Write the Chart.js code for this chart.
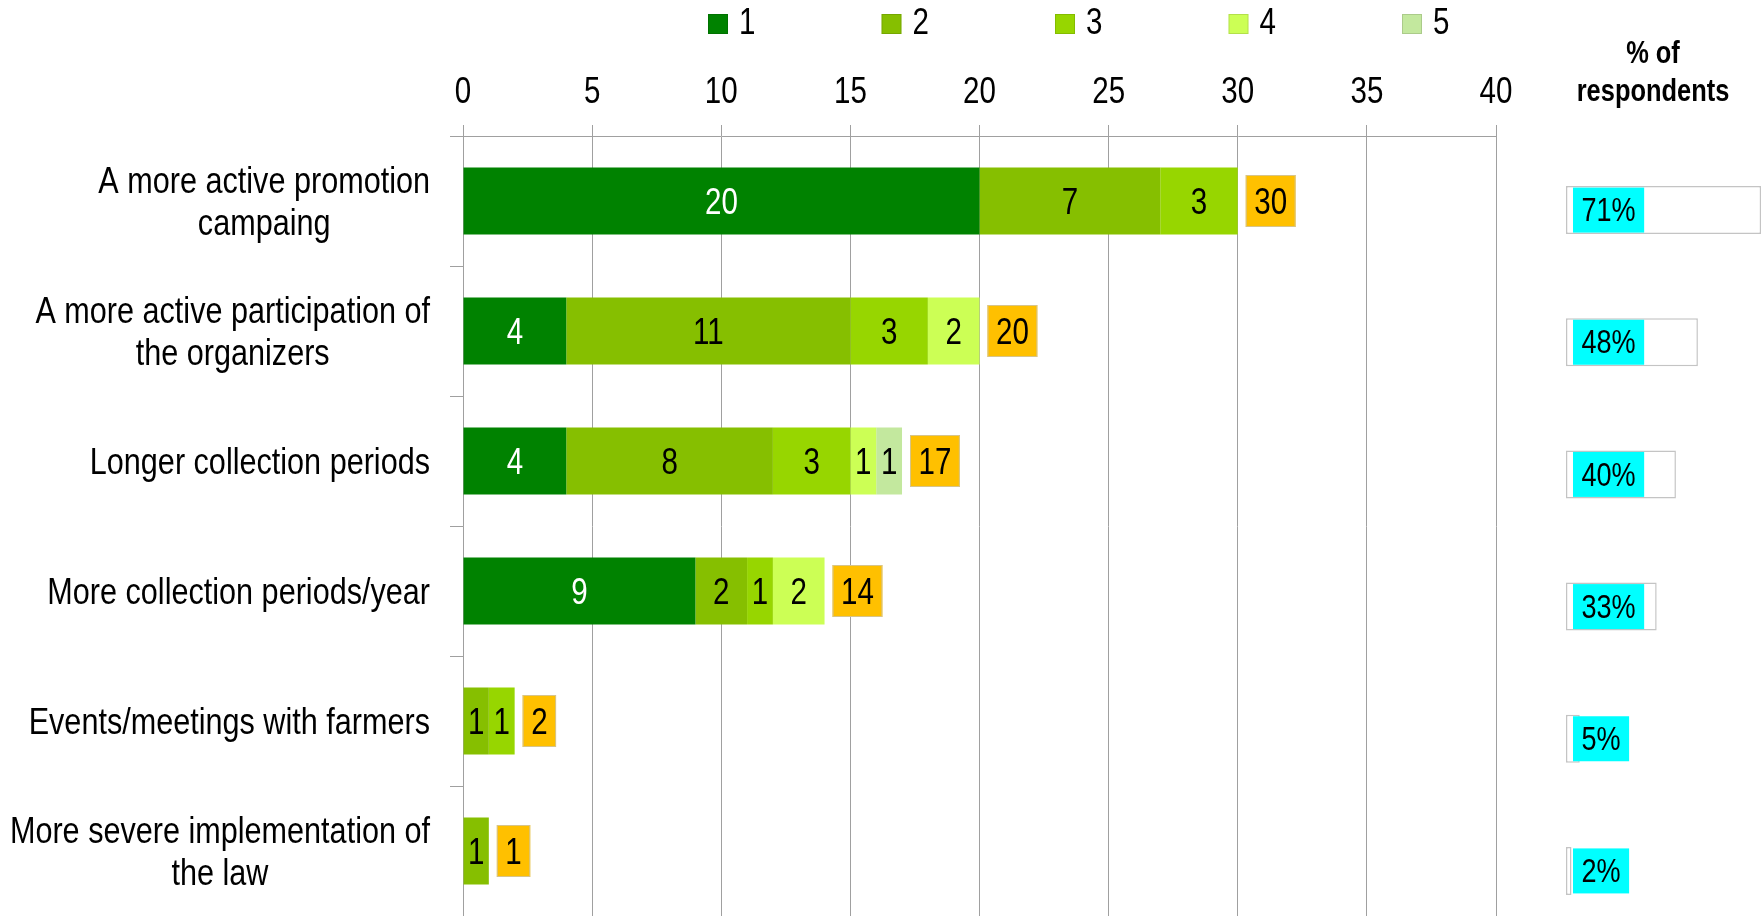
<!DOCTYPE html>
<html>
<head>
<meta charset="utf-8">
<script src="https://cdn.jsdelivr.net/npm/chart.js@4.4.0/dist/chart.umd.min.js"></script>
<style>
  html, body { margin: 0; padding: 0; background: #fff; overflow: hidden; }
  #wrap { position: relative; width: 1764px; height: 916px; overflow: hidden; }
  #main { position: absolute; left: 0; top: 0; }
  #pct { position: absolute; left: 1545px; top: 0; }
  #pctTitle {
    position: absolute; left: 1545px; top: 34px; width: 216px;
    text-align: center; font: bold 31px "Liberation Sans", Arial, sans-serif;
    line-height: 38px; color: #000; transform: scaleX(0.82);
  }
</style>
</head>
<body>
<div id="wrap">
  <canvas id="main" width="1545" height="916"></canvas>
  <canvas id="pct" width="219" height="950"></canvas>
  <div id="pctTitle">% of<br>respondents</div>
</div>
<script>
const FONT = '"Liberation Sans", Arial, sans-serif';
const NARROW = 0.82; // Arial Narrow look: squeeze Liberation Sans

// data
const categories = [
  ["A more active promotion", "campaing"],
  ["A more active participation of", "the organizers"],
  ["Longer collection periods"],
  ["More collection periods/year"],
  ["Events/meetings with farmers"],
  ["More severe implementation of", "the law"],
];
const seriesNames = ["1", "2", "3", "4", "5"];
const score1 = [20, 4, 4, 9, 0, 0];
const score2 = [7, 11, 8, 2, 1, 1];
const score3 = [3, 3, 3, 1, 1, 0];
const score4 = [0, 2, 1, 2, 0, 0];
const score5 = [0, 0, 1, 0, 0, 0];
const respondentsPct = [71, 48, 40, 33, 5, 2];

const seriesValues = [score1, score2, score3, score4, score5];
const seriesColors = ["#008200", "#86bf00", "#97d600", "#ccff55", "#c3e89e"];

Chart.defaults.font.family = FONT;
Chart.defaults.color = "#000";

function textW(ctx, t, k) {
  return ctx.measureText(t).width * (k || NARROW);
}
function narrowText(ctx, t, x, y, align, k) {
  ctx.save();
  ctx.translate(x, y);
  ctx.scale(k || NARROW, 1);
  ctx.textAlign = align || "center";
  ctx.fillText(t, 0, 0);
  ctx.restore();
}

// legend drawn by hand so it sits where the original has it
const legendPlugin = {
  id: "topLegend",
  afterDraw(chart) {
    const ctx = chart.ctx;
    ctx.save();
    ctx.font = `36px ${FONT}`;
    ctx.textBaseline = "middle";
    chart.data.datasets.forEach((ds, i) => {
      const x = 708 + i * 173.5;
      ctx.fillStyle = ds.backgroundColor;
      ctx.fillRect(x, 14, 20, 20);
      ctx.strokeStyle = "rgba(0,0,0,0.12)";
      ctx.strokeRect(x + 0.5, 14.5, 19, 19);
      ctx.fillStyle = "#000";
      narrowText(ctx, ds.label, x + 31, 24, "left");
    });
    ctx.restore();
  },
};

// x tick labels and category labels
const axisLabelPlugin = {
  id: "axisLabels",
  afterDraw(chart) {
    const { ctx } = chart;
    const x = chart.scales.x;
    const y = chart.scales.y;
    ctx.save();
    ctx.font = `36px ${FONT}`;
    ctx.fillStyle = "#000";
    ctx.textBaseline = "middle";
    x.ticks.forEach((t) => {
      narrowText(ctx, String(t.value), x.getPixelForValue(t.value), 93, "center");
    });
    categories.forEach((lines, i) => {
      const yc = y.getPixelForValue(i) + 3;
      const w = Math.max(...lines.map((l) => textW(ctx, l, 0.85)));
      const right = y.right - 33;
      lines.forEach((line, j) => {
        narrowText(ctx, line, right - w / 2, yc + (j - (lines.length - 1) / 2) * 42, "center", 0.85);
      });
    });
    ctx.restore();
  },
};

// values inside segments + total boxes
const valueLabelPlugin = {
  id: "valueLabels",
  afterDatasetsDraw(chart) {
    const { ctx } = chart;
    const x = chart.scales.x;
    const y = chart.scales.y;
    ctx.save();
    ctx.font = `36px ${FONT}`;
    ctx.textBaseline = "middle";
    chart.data.datasets.forEach((ds, di) => {
      const meta = chart.getDatasetMeta(di);
      meta.data.forEach((bar, i) => {
        const v = ds.data[i];
        if (!v) return;
        ctx.fillStyle = di === 0 ? "#fff" : "#000";
        narrowText(ctx, String(v), (bar.x + bar.base) / 2, bar.y + 3, "center");
      });
    });
    categories.forEach((c, i) => {
      const total = seriesValues.reduce((s, arr) => s + arr[i], 0);
      const txt = String(total);
      const w = textW(ctx, txt) + 17;
      const left = x.getPixelForValue(total) + 8;
      const yc = y.getPixelForValue(i);
      ctx.fillStyle = "#ffc000";
      ctx.fillRect(left, yc - 26, w, 52);
      ctx.strokeStyle = "#d6c48a";
      ctx.lineWidth = 1;
      ctx.strokeRect(left + 0.5, yc - 25.5, w - 1, 51);
      ctx.fillStyle = "#000";
      narrowText(ctx, txt, left + w / 2, yc + 3, "center");
    });
    ctx.restore();
  },
};

new Chart(document.getElementById("main"), {
  type: "bar",
  data: {
    labels: categories,
    datasets: seriesNames.map((name, i) => ({
      label: name,
      data: seriesValues[i],
      backgroundColor: seriesColors[i],
      borderWidth: 0,
      barPercentage: 0.515,
      categoryPercentage: 1,
    })),
  },
  options: {
    indexAxis: "y",
    responsive: false,
    animation: false,
    devicePixelRatio: 1,
    layout: { padding: { left: 0, right: 49, top: 0, bottom: 0 } },
    plugins: { legend: { display: false }, tooltip: { enabled: false } },
    scales: {
      x: {
        position: "top",
        stacked: true,
        min: 0,
        max: 40,
        ticks: { stepSize: 5, display: false },
        grid: { color: "#a0a0a0", tickLength: 11 },
        border: { color: "#a0a0a0" },
        afterFit: (s) => { s.height = 136; },
      },
      y: {
        stacked: true,
        ticks: { display: false },
        grid: { drawOnChartArea: false, tickLength: 13, color: "#a0a0a0" },
        border: { color: "#a0a0a0" },
        afterFit: (s) => { s.width = 463; },
      },
    },
  },
  plugins: [legendPlugin, axisLabelPlugin, valueLabelPlugin],
});

// right panel: % of respondents
const pctLabelPlugin = {
  id: "pctLabels",
  afterDatasetsDraw(chart) {
    const { ctx } = chart;
    ctx.save();
    ctx.font = `33px ${FONT}`;
    ctx.textBaseline = "middle";
    const meta = chart.getDatasetMeta(0);
    meta.data.forEach((bar, i) => {
      const txt = respondentsPct[i] + "%";
      const w = textW(ctx, txt) + 17;
      const left = bar.base + 7;
      ctx.fillStyle = "#00ffff";
      ctx.fillRect(left, bar.y - 22.5, w, 45);
      ctx.fillStyle = "#000";
      narrowText(ctx, txt, left + w / 2, bar.y + 2, "center");
    });
    ctx.restore();
  },
};

new Chart(document.getElementById("pct"), {
  type: "bar",
  data: {
    labels: categories,
    datasets: [{
      data: respondentsPct,
      backgroundColor: "#ffffff",
      borderColor: "#c4c4c4",
      borderWidth: 1.5,
      borderSkipped: false,
      barPercentage: 0.363,
      categoryPercentage: 1,
    }],
  },
  options: {
    indexAxis: "y",
    responsive: false,
    animation: false,
    devicePixelRatio: 1,
    layout: { padding: { left: 21, right: 1, top: 144, bottom: 13 } },
    plugins: { legend: { display: false }, tooltip: { enabled: false } },
    scales: {
      x: { display: false, min: 0, max: 71.7 },
      y: { display: false },
    },
  },
  plugins: [pctLabelPlugin],
});
</script>
</body>
</html>
